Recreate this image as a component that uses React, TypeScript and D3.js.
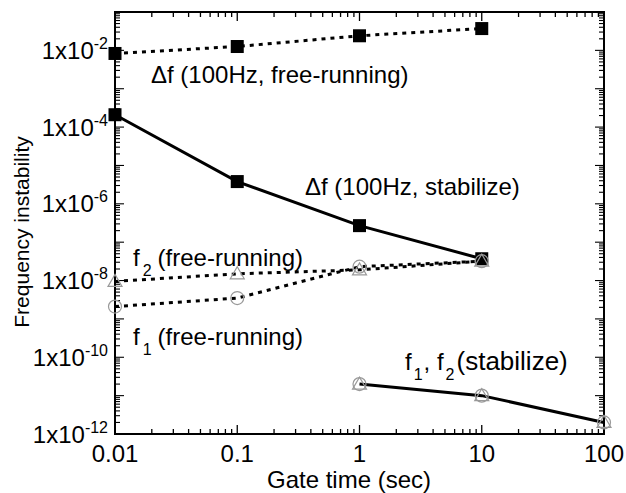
import React from "react";
import * as d3 from "d3";

// gate times (sec)
const gateTimes = [0.01, 0.1, 1, 10];
const stabTimes = [1, 10, 100];

// frequency instability values
const dfFree = [8.3e-3, 1.26e-2, 2.4e-2, 3.7e-2];
const dfStab = [2.1e-4, 3.8e-6, 2.7e-7, 3.7e-8];
const f2Free = [9.5e-9, 1.5e-8, 1.9e-8, 3.2e-8];
const f1Free = [2.1e-9, 3.5e-9, 2.3e-8, 3.2e-8];
const f12Stab = [2.0e-11, 1.0e-11, 2.0e-12];

const xTickLabels = ["0.01", "0.1", "1", "10", "100"];
const yLabelExps = [-2, -4, -6, -8, -10, -12];

const W = 626;
const H = 493;
const margin = { top: 12, right: 22, bottom: 59, left: 115 };
const FONT = "Liberation Sans, Arial, Helvetica, sans-serif";

const App = () => {
  const x = d3
    .scaleLog()
    .domain([0.01, 100])
    .range([margin.left, W - margin.right]);
  const y = d3
    .scaleLog()
    .domain([1e-12, 1e-1])
    .range([H - margin.bottom, margin.top]);

  const line = (xs: number[], ys: number[]) =>
    d3.line<number>()
      .x((_, i) => x(xs[i]))
      .y((d) => y(d))(ys) || "";

  const xTicks: { v: number; major: boolean }[] = [];
  for (let e = -2; e <= 2; e++) {
    for (let k = 1; k <= 9; k++) {
      const v = k * Math.pow(10, e);
      if (v > 100.0001) break;
      xTicks.push({ v, major: k === 1 });
    }
  }
  const yTicks: { v: number; major: boolean }[] = [];
  for (let e = -12; e <= -1; e++) {
    for (let k = 1; k <= 9; k++) {
      const v = k * Math.pow(10, e);
      if (v > 0.10001) break;
      yTicks.push({ v, major: k === 1 });
    }
  }

  const [x0, x1] = x.range();
  const [y0, y1] = y.range();

  const square = (cx: number, cy: number, key: string) => (
    <rect key={key} x={cx - 6.5} y={cy - 6.5} width={13} height={13} fill="#000" />
  );
  const circle = (cx: number, cy: number, key: string) => (
    <circle key={key} cx={cx} cy={cy} r={6.5} fill="none" stroke="#999" strokeWidth={1.2} />
  );
  const tri = (cx: number, cy: number, key: string) => (
    <path
      key={key}
      d={`M${cx},${cy - 7} L${cx + 7},${cy + 5} L${cx - 7},${cy + 5} Z`}
      fill="none"
      stroke="#999"
      strokeWidth={1.2}
    />
  );

  return (
    <svg
      width={W}
      height={H}
      style={{ position: "absolute", left: 0, top: 0, background: "#fff" }}
      fontFamily={FONT}
    >
      {/* frame */}
      <rect x={x0} y={y1} width={x1 - x0} height={y0 - y1} fill="none" stroke="#000" strokeWidth={2} />

      {/* x ticks, bottom and top, inward */}
      {xTicks.map((t, i) => {
        const len = t.major ? 9 : 5;
        const px = x(t.v);
        return (
          <g key={"xt" + i} stroke="#000" strokeWidth={1.3}>
            <line x1={px} x2={px} y1={y0} y2={y0 - len} />
            <line x1={px} x2={px} y1={y1} y2={y1 + len} />
          </g>
        );
      })}
      {/* y ticks, left and right, inward */}
      {yTicks.map((t, i) => {
        const len = t.major ? 9 : 5;
        const py = y(t.v);
        return (
          <g key={"yt" + i} stroke="#000" strokeWidth={1.1}>
            <line x1={x0} x2={x0 + len} y1={py} y2={py} />
            <line x1={x1} x2={x1 - len} y1={py} y2={py} />
          </g>
        );
      })}

      {/* x tick labels */}
      {xTickLabels.map((s, i) => (
        <text
          key={"xl" + i}
          x={x(Math.pow(10, i - 2))}
          y={y0 + 28}
          textAnchor="middle"
          fontSize={24}
        >
          {s}
        </text>
      ))}
      {/* y tick labels */}
      {yLabelExps.map((e) => (
        <text key={"yl" + e} x={x0 - 7} y={y(Math.pow(10, e)) + 8.5} textAnchor="end" fontSize={24}>
          1x10
          <tspan dy={-10} fontSize={16}>
            {String(e)}
          </tspan>
        </text>
      ))}

      {/* axis titles */}
      <text x={349} y={488} textAnchor="middle" fontSize={24}>
        Gate time (sec)
      </text>
      <text transform="translate(29,232) rotate(-90)" textAnchor="middle" fontSize={21}>
        Frequency instability
      </text>

      {/* lines */}
      <path d={line(gateTimes, dfFree)} fill="none" stroke="#000" strokeWidth={3} strokeDasharray="4,5" />
      <path d={line(gateTimes, f2Free)} fill="none" stroke="#000" strokeWidth={3} strokeDasharray="4,5" />
      <path d={line(gateTimes, f1Free)} fill="none" stroke="#000" strokeWidth={3} strokeDasharray="4,5" />
      <path d={line(gateTimes, dfStab)} fill="none" stroke="#000" strokeWidth={3} />
      <path d={line(stabTimes, f12Stab)} fill="none" stroke="#000" strokeWidth={3} />

      {/* markers */}
      {gateTimes.map((t, i) => square(x(t), y(dfFree[i]), "sf" + i))}
      {gateTimes.map((t, i) => square(x(t), y(dfStab[i]), "ss" + i))}
      {gateTimes.map((t, i) => tri(x(t), y(f2Free[i]), "t2" + i))}
      {gateTimes.map((t, i) => circle(x(t), y(f1Free[i]), "c1" + i))}
      {stabTimes.map((t, i) => tri(x(t), y(f12Stab[i]), "ts" + i))}
      {stabTimes.map((t, i) => circle(x(t), y(f12Stab[i]), "cs" + i))}

      {/* annotations */}
      <text x={151} y={83} fontSize={24}>
        Δf (100Hz, free-running)
      </text>
      <text x={305} y={195} fontSize={24}>
        Δf (100Hz, stabilize)
      </text>
      <text x={133} y={266} fontSize={24}>
        f<tspan dx={3} dy={10} fontSize={16}>2</tspan>
        <tspan dx={6} dy={-10}>(free-running)</tspan>
      </text>
      <text x={133} y={345} fontSize={24}>
        f<tspan dx={3} dy={10} fontSize={16}>1</tspan>
        <tspan dx={6} dy={-10}>(free-running)</tspan>
      </text>
      <text x={405} y={370} fontSize={24}>
        f<tspan dx={2} dy={10} fontSize={16}>1</tspan>
        <tspan dx={1} dy={-10}>, f</tspan>
        <tspan dx={2} dy={10} fontSize={16}>2</tspan>
        <tspan dx={2} dy={-10} fontSize={26}>(stabilize)</tspan>
      </text>
    </svg>
  );
};

export default App;
